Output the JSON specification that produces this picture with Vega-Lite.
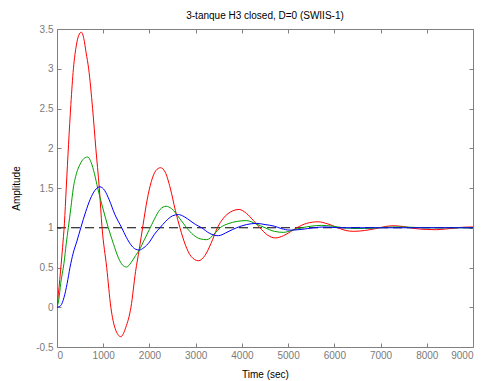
{
  "$schema": "https://vega.github.io/schema/vega-lite/v6.json",
  "width": 416,
  "height": 318,
  "autosize": "none",
  "padding": {"left": 57, "top": 29, "right": 11, "bottom": 34},
  "background": "white",
  "config": {
    "view": {"stroke": "#808080", "strokeWidth": 1},
    "font": "Liberation Sans",
    "axis": {
      "grid": false,
      "domain": false,
      "tickColor": "#808080",
      "tickSize": -4,
      "labelColor": "#7a7a7a",
      "labelFont": "Liberation Sans",
      "labelFontSize": 10,
      "titleFont": "Liberation Sans",
      "titleFontSize": 10,
      "titleFontWeight": "normal",
      "titleColor": "#000000"
    }
  },
  "title": {
    "text": "3-tanque H3 closed, D=0 (SWIIS-1)",
    "fontSize": 10,
    "fontWeight": "normal",
    "color": "#000000",
    "font": "Liberation Sans",
    "offset": 3
  },
  "datasets": {
    "ref": [
      {"t": 0, "v": 1},
      {"t": 9000, "v": 1}
    ],
    "resp": [
      {"s": "a", "t": 0, "v": 0},
      {"s": "a", "t": 60, "v": 0.35},
      {"s": "a", "t": 120, "v": 0.75},
      {"s": "a", "t": 160, "v": 1.05},
      {"s": "a", "t": 200, "v": 1.5},
      {"s": "a", "t": 250, "v": 2.05},
      {"s": "a", "t": 300, "v": 2.55},
      {"s": "a", "t": 355, "v": 3.0},
      {"s": "a", "t": 420, "v": 3.3},
      {"s": "a", "t": 470, "v": 3.42},
      {"s": "a", "t": 525, "v": 3.46},
      {"s": "a", "t": 580, "v": 3.38},
      {"s": "a", "t": 630, "v": 3.2},
      {"s": "a", "t": 685, "v": 3.0},
      {"s": "a", "t": 770, "v": 2.5},
      {"s": "a", "t": 840, "v": 2.0},
      {"s": "a", "t": 915, "v": 1.5},
      {"s": "a", "t": 975, "v": 1.0},
      {"s": "a", "t": 1075, "v": 0.5},
      {"s": "a", "t": 1165, "v": 0.0},
      {"s": "a", "t": 1260, "v": -0.27},
      {"s": "a", "t": 1380, "v": -0.37},
      {"s": "a", "t": 1490, "v": -0.25},
      {"s": "a", "t": 1600, "v": 0.0},
      {"s": "a", "t": 1700, "v": 0.45},
      {"s": "a", "t": 1780, "v": 0.73},
      {"s": "a", "t": 1860, "v": 1.03},
      {"s": "a", "t": 1950, "v": 1.35},
      {"s": "a", "t": 2040, "v": 1.58},
      {"s": "a", "t": 2140, "v": 1.72},
      {"s": "a", "t": 2240, "v": 1.755},
      {"s": "a", "t": 2340, "v": 1.7},
      {"s": "a", "t": 2450, "v": 1.5},
      {"s": "a", "t": 2560, "v": 1.22},
      {"s": "a", "t": 2660, "v": 1.0},
      {"s": "a", "t": 2780, "v": 0.78},
      {"s": "a", "t": 2900, "v": 0.64},
      {"s": "a", "t": 3060, "v": 0.585},
      {"s": "a", "t": 3200, "v": 0.65},
      {"s": "a", "t": 3330, "v": 0.8},
      {"s": "a", "t": 3470, "v": 1.0},
      {"s": "a", "t": 3600, "v": 1.12},
      {"s": "a", "t": 3760, "v": 1.2},
      {"s": "a", "t": 3940, "v": 1.23},
      {"s": "a", "t": 4100, "v": 1.18},
      {"s": "a", "t": 4250, "v": 1.09},
      {"s": "a", "t": 4390, "v": 1.0},
      {"s": "a", "t": 4550, "v": 0.91},
      {"s": "a", "t": 4720, "v": 0.872},
      {"s": "a", "t": 4900, "v": 0.9},
      {"s": "a", "t": 5050, "v": 0.95},
      {"s": "a", "t": 5190, "v": 1.0},
      {"s": "a", "t": 5400, "v": 1.055},
      {"s": "a", "t": 5650, "v": 1.075},
      {"s": "a", "t": 5850, "v": 1.05},
      {"s": "a", "t": 6080, "v": 1.0},
      {"s": "a", "t": 6250, "v": 0.965},
      {"s": "a", "t": 6420, "v": 0.955},
      {"s": "a", "t": 6650, "v": 0.965},
      {"s": "a", "t": 6900, "v": 0.99},
      {"s": "a", "t": 7100, "v": 1.015},
      {"s": "a", "t": 7270, "v": 1.025},
      {"s": "a", "t": 7500, "v": 1.015},
      {"s": "a", "t": 7750, "v": 0.99},
      {"s": "a", "t": 8000, "v": 0.978},
      {"s": "a", "t": 8210, "v": 0.976},
      {"s": "a", "t": 8500, "v": 0.99},
      {"s": "a", "t": 8750, "v": 1.005},
      {"s": "a", "t": 9000, "v": 1.01},

      {"s": "b", "t": 0, "v": 0},
      {"s": "b", "t": 40, "v": 0.1},
      {"s": "b", "t": 80, "v": 0.3},
      {"s": "b", "t": 150, "v": 0.55},
      {"s": "b", "t": 200, "v": 0.8},
      {"s": "b", "t": 245, "v": 1.0},
      {"s": "b", "t": 300, "v": 1.25},
      {"s": "b", "t": 353, "v": 1.5},
      {"s": "b", "t": 420, "v": 1.68},
      {"s": "b", "t": 500, "v": 1.8},
      {"s": "b", "t": 580, "v": 1.87},
      {"s": "b", "t": 663, "v": 1.89},
      {"s": "b", "t": 740, "v": 1.82},
      {"s": "b", "t": 810, "v": 1.68},
      {"s": "b", "t": 880, "v": 1.5},
      {"s": "b", "t": 990, "v": 1.25},
      {"s": "b", "t": 1110, "v": 1.0},
      {"s": "b", "t": 1220, "v": 0.8},
      {"s": "b", "t": 1330, "v": 0.62},
      {"s": "b", "t": 1420, "v": 0.53},
      {"s": "b", "t": 1507, "v": 0.506},
      {"s": "b", "t": 1600, "v": 0.56},
      {"s": "b", "t": 1700, "v": 0.65},
      {"s": "b", "t": 1780, "v": 0.72},
      {"s": "b", "t": 1890, "v": 0.85},
      {"s": "b", "t": 2000, "v": 0.98},
      {"s": "b", "t": 2100, "v": 1.1},
      {"s": "b", "t": 2230, "v": 1.23},
      {"s": "b", "t": 2360, "v": 1.27},
      {"s": "b", "t": 2480, "v": 1.24},
      {"s": "b", "t": 2650, "v": 1.12},
      {"s": "b", "t": 2805, "v": 1.0},
      {"s": "b", "t": 2950, "v": 0.91},
      {"s": "b", "t": 3100, "v": 0.86},
      {"s": "b", "t": 3240, "v": 0.85},
      {"s": "b", "t": 3400, "v": 0.92},
      {"s": "b", "t": 3530, "v": 1.0},
      {"s": "b", "t": 3700, "v": 1.05},
      {"s": "b", "t": 3900, "v": 1.08},
      {"s": "b", "t": 4100, "v": 1.09},
      {"s": "b", "t": 4300, "v": 1.05},
      {"s": "b", "t": 4500, "v": 1.0},
      {"s": "b", "t": 4700, "v": 0.955},
      {"s": "b", "t": 4900, "v": 0.942},
      {"s": "b", "t": 5100, "v": 0.97},
      {"s": "b", "t": 5300, "v": 1.0},
      {"s": "b", "t": 5500, "v": 1.02},
      {"s": "b", "t": 5725, "v": 1.03},
      {"s": "b", "t": 5950, "v": 1.02},
      {"s": "b", "t": 6200, "v": 1.0},
      {"s": "b", "t": 6500, "v": 0.99},
      {"s": "b", "t": 6800, "v": 0.995},
      {"s": "b", "t": 7100, "v": 1.005},
      {"s": "b", "t": 7400, "v": 1.01},
      {"s": "b", "t": 7700, "v": 1.005},
      {"s": "b", "t": 8000, "v": 1.0},
      {"s": "b", "t": 9000, "v": 1.0},

      {"s": "c", "t": 0, "v": 0},
      {"s": "c", "t": 80, "v": 0.02},
      {"s": "c", "t": 150, "v": 0.12},
      {"s": "c", "t": 220, "v": 0.3},
      {"s": "c", "t": 281, "v": 0.5},
      {"s": "c", "t": 350, "v": 0.68},
      {"s": "c", "t": 430, "v": 0.83},
      {"s": "c", "t": 515, "v": 1.0},
      {"s": "c", "t": 620, "v": 1.2},
      {"s": "c", "t": 720, "v": 1.36},
      {"s": "c", "t": 820, "v": 1.47},
      {"s": "c", "t": 930, "v": 1.515},
      {"s": "c", "t": 1030, "v": 1.47},
      {"s": "c", "t": 1130, "v": 1.35},
      {"s": "c", "t": 1250, "v": 1.17},
      {"s": "c", "t": 1400, "v": 1.0},
      {"s": "c", "t": 1500, "v": 0.88},
      {"s": "c", "t": 1620, "v": 0.77},
      {"s": "c", "t": 1700, "v": 0.73},
      {"s": "c", "t": 1780, "v": 0.72},
      {"s": "c", "t": 1880, "v": 0.75},
      {"s": "c", "t": 2000, "v": 0.82},
      {"s": "c", "t": 2110, "v": 0.92},
      {"s": "c", "t": 2228, "v": 1.0},
      {"s": "c", "t": 2350, "v": 1.08},
      {"s": "c", "t": 2500, "v": 1.15},
      {"s": "c", "t": 2624, "v": 1.166},
      {"s": "c", "t": 2750, "v": 1.14},
      {"s": "c", "t": 2900, "v": 1.08},
      {"s": "c", "t": 3000, "v": 1.04},
      {"s": "c", "t": 3129, "v": 1.0},
      {"s": "c", "t": 3300, "v": 0.93},
      {"s": "c", "t": 3489, "v": 0.9},
      {"s": "c", "t": 3700, "v": 0.95},
      {"s": "c", "t": 3886, "v": 1.0},
      {"s": "c", "t": 4100, "v": 1.04},
      {"s": "c", "t": 4320, "v": 1.055},
      {"s": "c", "t": 4500, "v": 1.04},
      {"s": "c", "t": 4700, "v": 1.02},
      {"s": "c", "t": 4850, "v": 0.99},
      {"s": "c", "t": 5040, "v": 0.97},
      {"s": "c", "t": 5300, "v": 0.98},
      {"s": "c", "t": 5550, "v": 1.0},
      {"s": "c", "t": 5800, "v": 1.01},
      {"s": "c", "t": 6100, "v": 1.0},
      {"s": "c", "t": 7000, "v": 1.0},
      {"s": "c", "t": 9000, "v": 1.0}
    ]
  },
  "layer": [
    {
      "data": {"name": "ref"},
      "mark": {"type": "line", "color": "#000000", "strokeWidth": 1, "strokeDash": [9, 5], "clip": true},
      "encoding": {
        "x": {"field": "t", "type": "quantitative", "scale": {"domain": [0, 9000], "nice": false},
              "axis": {"orient": "top", "labels": false, "title": null, "values": [0, 1000, 2000, 3000, 4000, 5000, 6000, 7000, 8000, 9000]}},
        "y": {"field": "v", "type": "quantitative", "scale": {"domain": [-0.5, 3.5], "nice": false, "zero": false},
              "axis": {"orient": "right", "labels": false, "title": null, "values": [-0.5, 0, 0.5, 1, 1.5, 2, 2.5, 3, 3.5]}}
      }
    },
    {
      "data": {"name": "resp"},
      "mark": {"type": "line", "strokeWidth": 1, "interpolate": "monotone", "clip": true},
      "encoding": {
        "x": {"field": "t", "type": "quantitative",
              "axis": {"orient": "bottom", "title": "Time (sec)", "format": "d", "labelPadding": 7, "titlePadding": 9,
                       "values": [0, 1000, 2000, 3000, 4000, 5000, 6000, 7000, 8000, 9000]}},
        "y": {"field": "v", "type": "quantitative",
              "axis": {"orient": "left", "title": "Amplitude", "labelExpr": "'' + datum.value", "labelPadding": 8, "titlePadding": 14,
                       "values": [-0.5, 0, 0.5, 1, 1.5, 2, 2.5, 3, 3.5]}},
        "color": {"field": "s", "type": "nominal", "legend": null,
                  "scale": {"domain": ["a", "b", "c"], "range": ["#ff0000", "#00a000", "#0000ff"]}}
      }
    }
  ],
  "resolve": {"axis": {"x": "independent", "y": "independent"}}
}
